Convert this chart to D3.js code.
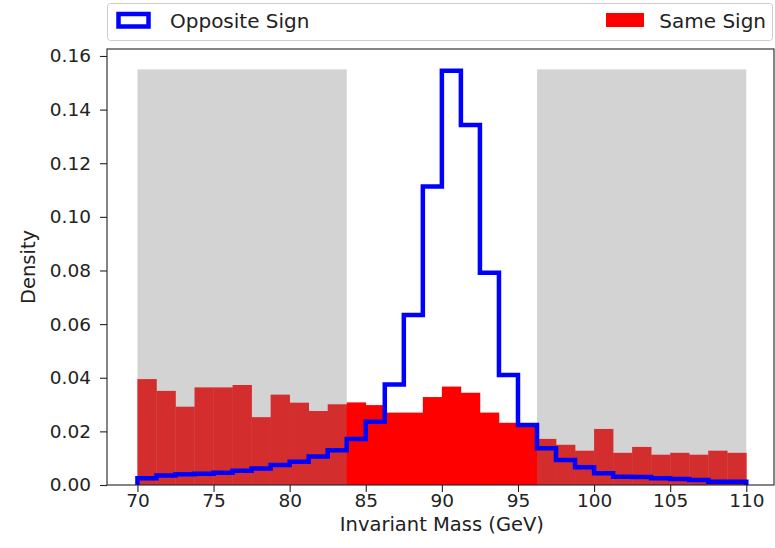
<!DOCTYPE html>
<html>
<head>
<meta charset="utf-8">
<script src="https://cdn.jsdelivr.net/npm/d3@7"></script>
<style>
  html, body { margin: 0; padding: 0; background: #fff; }
  svg { display: block; font-family: "DejaVu Sans", sans-serif; }
</style>
</head>
<body>
<svg id="chart" width="775" height="548"></svg>
<script>
// Histogram bin edges (GeV): 32 bins of width 1.25 from 70 to 110
const binStart = 70;
const binWidth = 1.25;

// Density per bin, same-sign pairs
const sameSign = [0.0395, 0.0351, 0.0292, 0.0364, 0.0364, 0.0373, 0.0253, 0.0337,
                  0.0307, 0.0276, 0.0301, 0.0308, 0.0298, 0.0270, 0.0270, 0.0328,
                  0.0367, 0.0344, 0.0270, 0.0232, 0.0228, 0.0172, 0.0150, 0.0128,
                  0.0209, 0.0120, 0.0142, 0.0113, 0.0120, 0.0113, 0.0128, 0.0120];

// Density per bin, opposite-sign pairs
const oppositeSign = [0.0025, 0.0035, 0.0040, 0.0042, 0.0046, 0.0053, 0.0062, 0.0075,
                      0.0087, 0.0106, 0.0130, 0.0172, 0.0236, 0.0375, 0.0634, 0.1113,
                      0.1545, 0.1343, 0.0792, 0.0410, 0.0224, 0.0137, 0.0093, 0.0066,
                      0.0044, 0.0031, 0.0030, 0.0025, 0.0022, 0.0019, 0.0012, 0.0012];

// Sideband windows shaded in grey
const sidebands = [[70, 83.75], [96.25, 110]];
const sidebandTop = 0.155;

const xTicks = [70, 75, 80, 85, 90, 95, 100, 105, 110];
const yTicks = [0.00, 0.02, 0.04, 0.06, 0.08, 0.10, 0.12, 0.14, 0.16];

const legendItems = ["Opposite Sign", "Same Sign"];

const svg = d3.select("#chart");
const plot = { left: 107, right: 774, top: 49, bottom: 485 };

const x = d3.scaleLinear().domain([68, 111.82]).range([plot.left, plot.right]);
const y = d3.scaleLinear().domain([0, 0.1626]).range([plot.bottom, plot.top]);

const bins = sameSign.map((v, i) => ({
  x0: binStart + i * binWidth,
  x1: binStart + (i + 1) * binWidth,
  same: v,
  opp: oppositeSign[i]
}));

// Same-sign bars
svg.append("g").selectAll("rect")
  .data(bins).join("rect")
  .attr("x", d => x(d.x0))
  .attr("width", d => x(d.x1) - x(d.x0) + 0.3)
  .attr("y", d => y(d.same))
  .attr("height", d => y(0) - y(d.same))
  .attr("fill", "#ff0000");

// Sideband shading
svg.append("g").selectAll("rect")
  .data(sidebands).join("rect")
  .attr("x", d => x(d[0]))
  .attr("width", d => x(d[1]) - x(d[0]))
  .attr("y", y(sidebandTop))
  .attr("height", y(0) - y(sidebandTop))
  .attr("fill", "#808080")
  .attr("fill-opacity", 0.35);

// Opposite-sign step outline
const stepPts = [[bins[0].x0, 0]];
bins.forEach(b => { stepPts.push([b.x0, b.opp]); stepPts.push([b.x1, b.opp]); });
stepPts.push([bins[bins.length - 1].x1, 0]);
svg.append("path")
  .attr("d", d3.line().x(d => x(d[0])).y(d => y(d[1]))(stepPts))
  .attr("fill", "none")
  .attr("stroke", "#0000ff")
  .attr("stroke-width", 4.5)
  .attr("stroke-linejoin", "miter");

// Axes
const tickFont = 18.5;
const labelFont = 19.5;
const legendFont = 20;
const xAxis = svg.append("g")
  .attr("transform", `translate(0,${plot.bottom})`)
  .call(d3.axisBottom(x).tickValues(xTicks).tickFormat(d3.format("d")).tickSize(7).tickPadding(2));
const yAxis = svg.append("g")
  .attr("transform", `translate(${plot.left},0)`)
  .call(d3.axisLeft(y).tickValues(yTicks).tickFormat(d3.format(".2f")).tickSize(7).tickPadding(9));
[xAxis, yAxis].forEach(g => {
  g.select(".domain").remove();
  g.selectAll(".tick line").attr("stroke", "#222").attr("stroke-width", 1.1);
  g.selectAll(".tick text").attr("fill", "#222").style("font-size", tickFont + "px")
    .style("font-family", "DejaVu Sans");
});

// Frame
svg.append("rect")
  .attr("x", plot.left).attr("y", plot.top)
  .attr("width", plot.right - plot.left).attr("height", plot.bottom - plot.top)
  .attr("fill", "none").attr("stroke", "#222").attr("stroke-width", 1.1);

// Axis titles
svg.append("text")
  .attr("x", (x(70) + x(110)) / 2).attr("y", 531)
  .attr("text-anchor", "middle").attr("fill", "#222")
  .style("font-size", labelFont + "px")
  .text("Invariant Mass (GeV)");
svg.append("text")
  .attr("transform", `translate(35,${(plot.top + plot.bottom) / 2}) rotate(-90)`)
  .attr("text-anchor", "middle").attr("fill", "#222")
  .style("font-size", labelFont + "px")
  .text("Density");

// Legend spanning the top of the plot
const legend = svg.append("g");
legend.append("rect")
  .attr("x", 107.5).attr("y", 3.5).attr("width", 665).attr("height", 37)
  .attr("rx", 3).attr("fill", "#fff").attr("stroke", "#cccccc").attr("stroke-width", 1);
legend.append("rect")
  .attr("x", 118.5).attr("y", 14).attr("width", 30).attr("height", 12.5)
  .attr("fill", "#fff").attr("stroke", "#0000ff").attr("stroke-width", 4.5);
legend.append("text")
  .attr("x", 170).attr("y", 28).attr("fill", "#222")
  .style("font-size", legendFont + "px").text(legendItems[0]);
legend.append("rect")
  .attr("x", 606).attr("y", 13).attr("width", 38).attr("height", 14)
  .attr("fill", "#ff0000");
legend.append("text")
  .attr("x", 766).attr("y", 28).attr("text-anchor", "end").attr("fill", "#222")
  .style("font-size", legendFont + "px").text(legendItems[1]);
</script>
</body>
</html>
